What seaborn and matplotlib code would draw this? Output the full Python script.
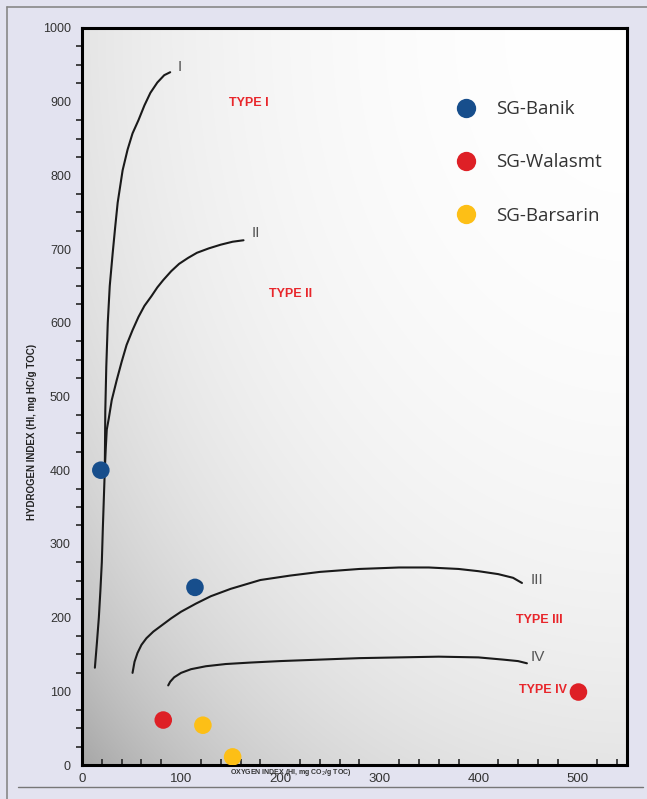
import numpy as np
import pandas as pd
import matplotlib
matplotlib.use("Agg")
import matplotlib.pyplot as plt
from matplotlib.ticker import MultipleLocator
import seaborn as sns

# ---- data ----
wells = ["SG-Banik", "SG-Banik", "SG-Walasmt", "SG-Walasmt", "SG-Barsarin", "SG-Barsarin"]
oi_values = [19, 114, 82, 501, 122, 152]
hi_values = [400, 241, 61, 99, 54, 11]

type1_x = [13, 15, 17, 18.5, 20, 21, 22, 23, 23.5, 24.5, 26, 28, 31, 33.5, 36, 41, 46, 51, 57, 63, 69, 76, 83, 89]
type1_y = [132, 165, 200, 235, 275, 320, 360, 400, 480, 540, 600, 650, 695, 730, 763, 807, 835, 857, 875, 895, 912, 926, 936, 940]
type2_x = [23, 24, 25, 27, 30, 35, 40, 45, 51, 57, 63, 70, 76, 82, 90, 98, 107, 116, 128, 140, 152, 163]
type2_y = [400, 430, 455, 470, 495, 522, 547, 570, 590, 608, 623, 636, 648, 658, 670, 680, 688, 695, 701, 706, 710, 712]
type3_x = [51, 53, 56, 60, 65, 72, 80, 90, 100, 115, 130, 150, 180, 210, 240, 280, 320, 350, 380, 400, 420, 435, 444]
type3_y = [125, 140, 152, 163, 172, 181, 189, 199, 208, 219, 229, 239, 251, 257, 262, 266, 268, 268, 266, 263, 259, 254, 247]
type4_x = [87, 89, 93, 100, 110, 125, 145, 170, 200, 240, 280, 320, 360, 400, 425, 440, 449]
type4_y = [108, 113, 119, 125, 130, 134, 137, 139, 141, 143, 145, 146, 147, 146, 143, 141, 138]

curve_labels = ["I", "II", "III", "IV"]
curve_label_x = [99, 175, 459, 460]
curve_label_y = [947, 722, 251, 147]
type_labels = ["TYPE I", "TYPE II", "TYPE III", "TYPE IV"]
type_label_x = [168, 210, 462, 465]
type_label_y = [898, 639, 197, 102]

x_ticks = [0, 100, 200, 300, 400, 500]
y_ticks = [0, 100, 200, 300, 400, 500, 600, 700, 800, 900, 1000]

palette = {"SG-Banik": "#174e8c", "SG-Walasmt": "#de2026", "SG-Barsarin": "#fdbf16"}

# ---- figure ----
sns.set_style("white")
plt.rcParams["font.family"] = ["Liberation Sans", "DejaVu Sans"]

fig = plt.figure(figsize=(6.47, 7.99), dpi=100)
fig.patch.set_facecolor("#e3e3f0")
ax = fig.add_axes([82 / 647, 1 - 765 / 799, (627 - 82) / 647, (765 - 28) / 799])

# background gradient of the plot area
nx, ny = 300, 300
u = np.linspace(0, 1, nx)
v = np.linspace(0, 1, ny)
U, V = np.meshgrid(u, v)
d = np.sqrt((1 - U) ** 2 + (1 - V) ** 2)
g = (255 - 20 * d ** 2 - 6 * d ** 6) / 255
g = np.clip(g, 0.62, 1)
ax.imshow(np.dstack([g, g, g]), extent=[0, 550, 0, 1000], origin="lower",
          aspect="auto", zorder=0, interpolation="bilinear")

curves = pd.concat([
    pd.DataFrame({"x": type1_x, "y": type1_y, "c": "I"}),
    pd.DataFrame({"x": type2_x, "y": type2_y, "c": "II"}),
    pd.DataFrame({"x": type3_x, "y": type3_y, "c": "III"}),
    pd.DataFrame({"x": type4_x, "y": type4_y, "c": "IV"}),
])
for name, sub in curves.groupby("c"):
    sns.lineplot(data=sub, x="x", y="y", sort=False, ax=ax, color="#1a1a1a",
                 lw=1.5, zorder=2, legend=False)

pts = pd.DataFrame({"well": wells, "oi": oi_values, "hi": hi_values})
sns.scatterplot(data=pts, x="oi", y="hi", hue="well", palette=palette,
                hue_order=["SG-Banik", "SG-Walasmt", "SG-Barsarin"],
                s=160, edgecolor="none", ax=ax, zorder=3)

for t, x, y in zip(curve_labels, curve_label_x, curve_label_y):
    ax.text(x, y, t, ha="center", va="center", fontsize=11, color="#555555", zorder=4)
for t, x, y in zip(type_labels, type_label_x, type_label_y):
    ax.text(x, y, t, ha="center", va="center", fontsize=9, fontweight="bold",
            color="#e8262b", zorder=4)

handles, labels = ax.get_legend_handles_labels()
leg = ax.legend(handles, labels, loc="upper left", bbox_to_anchor=(0.64, 0.925),
                frameon=False, fontsize=13.5, labelspacing=1.88, handletextpad=0.6,
                markerscale=1.1, labelcolor="#333333")
for txt in leg.get_texts():
    txt.set_family(["Open Sans", "DejaVu Sans"])

ax.set_xlim(0, 550)
ax.set_ylim(0, 1000)
ax.set_xticks(x_ticks)
ax.set_yticks(y_ticks)
ax.xaxis.set_minor_locator(MultipleLocator(20))
ax.yaxis.set_minor_locator(MultipleLocator(25))
ax.tick_params(axis="y", which="major", direction="out", length=5, width=1.5,
               labelsize=9, labelcolor="#333333", pad=3)
ax.tick_params(axis="y", which="minor", direction="out", length=4, width=1.2, left=True)
ax.tick_params(axis="x", which="major", direction="inout", length=7, width=1.5,
               labelsize=9.5, labelcolor="#333333", pad=2)
ax.tick_params(axis="x", which="minor", direction="in", length=4, width=1.2, bottom=True)
for s in ax.spines.values():
    s.set_linewidth(2.2)
    s.set_color("black")

ax.set_xlabel("")
ax.set_ylabel("")
fig.text(291 / 647, 1 - 773 / 799, "OXYGEN INDEX (HI, mg CO$_2$/g TOC)", fontsize=5,
         fontweight="bold", color="#333333", ha="center", va="center")
fig.text(32 / 647, 1 - 432 / 799, "HYDROGEN INDEX (HI, mg HC/g TOC)", fontsize=7,
         fontweight="bold", color="#222222", ha="center", va="center", rotation=90)

# outer frame lines
fig.add_artist(plt.Line2D([7 / 647, 7 / 647], [0, 1 - 7 / 799], transform=fig.transFigure,
                          color="#888888", lw=1.2))
fig.add_artist(plt.Line2D([7 / 647, 1], [1 - 7 / 799, 1 - 7 / 799], transform=fig.transFigure,
                          color="#888888", lw=1.2))
fig.add_artist(plt.Line2D([18 / 647, 643 / 647], [1 - 787 / 799, 1 - 787 / 799],
                          transform=fig.transFigure, color="#777777", lw=1.0))

fig.savefig("out.png", dpi=100, facecolor=fig.get_facecolor())
